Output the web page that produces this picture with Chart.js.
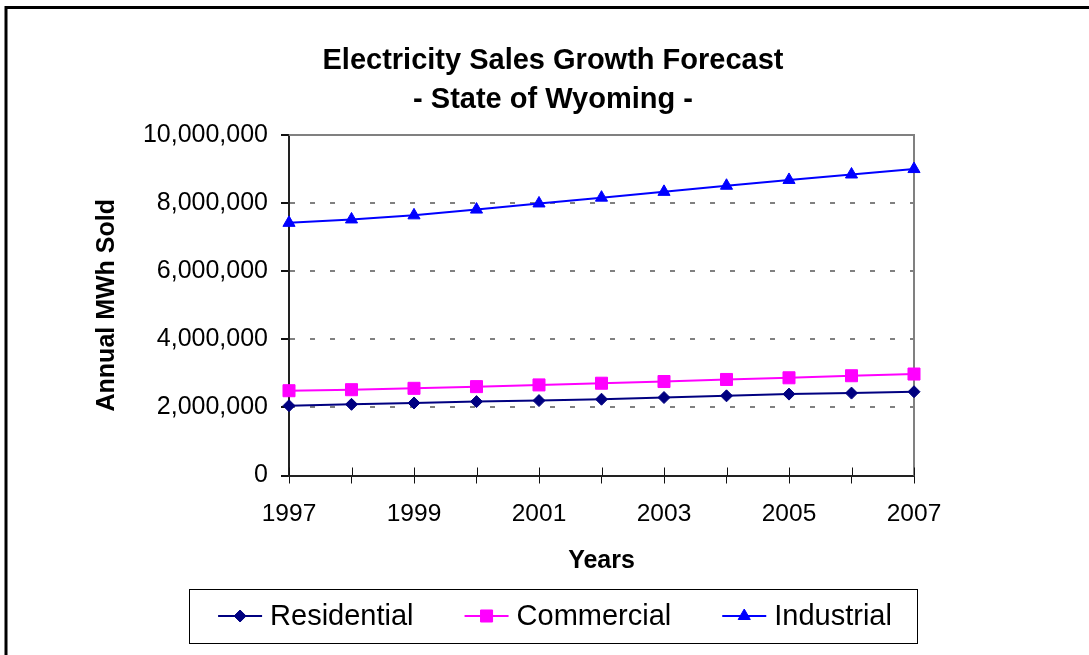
<!DOCTYPE html>
<html>
<head>
<meta charset="utf-8">
<title>Electricity Sales Growth Forecast</title>
<script src="https://cdn.jsdelivr.net/npm/chart.js"></script>
<style>
  html, body { margin: 0; padding: 0; background: #fff; }
  canvas { display: block; }
</style>
</head>
<body>
<canvas id="sales_chart" width="1089" height="655"></canvas>
<script>
// annual MWh sold, Wyoming forecast
const years = ['1997', '1998', '1999', '2000', '2001', '2002', '2003', '2004', '2005', '2006', '2007'];
const residential = [2050000, 2090000, 2130000, 2170000, 2200000, 2240000, 2290000, 2340000, 2390000, 2420000, 2460000];
const commercial = [2490000, 2520000, 2560000, 2610000, 2660000, 2710000, 2760000, 2820000, 2870000, 2930000, 2980000];
const industrial = [7420000, 7520000, 7640000, 7810000, 7990000, 8160000, 8330000, 8510000, 8680000, 8840000, 9000000];
const y_min = 0;
const y_max = 10000000;
const y_step = 2000000;

const FONT = "'Liberation Sans', Arial, sans-serif";

function series(label, data, color, pointStyle, radius) {
  return {
    label: label,
    data: data,
    borderColor: color,
    backgroundColor: color,
    pointBackgroundColor: color,
    pointBorderColor: color,
    pointStyle: pointStyle,
    pointRadius: radius,
    pointBorderWidth: 1,
    borderWidth: 2,
    tension: 0,
    clip: false
  };
}

// outer frame, plot border (top/right) and the inner half of the x ticks
const frame_plugin = {
  id: 'frame',
  beforeDraw(chart) {
    const ctx = chart.ctx;
    ctx.save();
    ctx.fillStyle = '#fff';
    ctx.fillRect(0, 0, chart.width, chart.height);
    ctx.strokeStyle = '#000';
    ctx.lineWidth = 3;
    ctx.strokeRect(6, 7.5, chart.width + 20, chart.height + 20);
    ctx.restore();
  },
  beforeDatasetsDraw(chart) {
    const ctx = chart.ctx;
    const a = chart.chartArea;
    const x = chart.scales.x;
    ctx.save();
    ctx.strokeStyle = '#808080';
    ctx.lineWidth = 2;
    ctx.beginPath();
    ctx.moveTo(a.left, a.top);
    ctx.lineTo(a.right, a.top);
    ctx.lineTo(a.right, a.bottom);
    ctx.stroke();
    ctx.strokeStyle = '#111';
    ctx.lineWidth = 1;
    for (let i = 0; i < x.ticks.length; i++) {
      const px = Math.round(x.getPixelForTick(i)) + 0.5;
      ctx.beginPath();
      ctx.moveTo(px, a.bottom);
      ctx.lineTo(px, a.bottom - 8);
      ctx.stroke();
    }
    ctx.restore();
  }
};

// boxed legend with line + marker samples
const boxed_legend_plugin = {
  id: 'boxedLegend',
  afterDraw(chart) {
    const ctx = chart.ctx;
    const cx = 555;
    const cy = 616;
    const sample = 44;
    const text_gap = 8;
    const item_gap = 51;
    ctx.save();
    ctx.font = '29px ' + FONT;
    const sets = chart.data.datasets;
    const widths = sets.map(ds => sample + text_gap + ctx.measureText(ds.label).width);
    const total = widths.reduce((s, w) => s + w, 0) + item_gap * (sets.length - 1);
    let lx = cx - total / 2;

    ctx.strokeStyle = '#000';
    ctx.lineWidth = 1;
    ctx.strokeRect(189.5, 589.5, 728, 54);

    sets.forEach((ds, i) => {
      ctx.strokeStyle = ds.borderColor;
      ctx.lineWidth = 2;
      ctx.beginPath();
      ctx.moveTo(lx, cy);
      ctx.lineTo(lx + sample, cy);
      ctx.stroke();
      ctx.fillStyle = ds.pointBackgroundColor;
      ctx.strokeStyle = ds.pointBorderColor;
      ctx.lineWidth = 1;
      Chart.helpers.drawPoint(ctx, {
        pointStyle: ds.pointStyle,
        radius: ds.pointRadius,
        rotation: 0,
        borderWidth: 1
      }, lx + sample / 2, cy);
      ctx.fillStyle = '#000';
      ctx.textAlign = 'left';
      ctx.textBaseline = 'middle';
      ctx.fillText(ds.label, lx + sample + text_gap, cy + 1);
      lx += widths[i] + item_gap;
    });
    ctx.restore();
  }
};

const sales_chart_data = {
  labels: years,
  datasets: [
    series('Residential', residential, '#000080', 'rectRot', 6),
    series('Commercial', commercial, '#FF00FF', 'rect', 8.5),
    series('Industrial', industrial, '#0000FF', 'triangle', 7)
  ]
};

const sales_chart_config = {
  type: 'line',
  data: sales_chart_data,
  options: {
    responsive: false,
    animation: false,
    devicePixelRatio: 1,
    layout: {
      padding: { left: 17, right: 0, top: 0, bottom: 0 }
    },
    plugins: {
      legend: { display: false },
      tooltip: { enabled: false },
      title: {
        display: true,
        text: ['Electricity Sales Growth Forecast', '- State of Wyoming -'],
        color: '#000',
        font: { family: FONT, size: 29, weight: 'bold', lineHeight: 1.35 },
        padding: { top: 41.4, bottom: 15.3 }
      }
    },
    scales: {
      x: {
        type: 'category',
        offset: false,
        afterFit: (scale) => { scale.height = 179.5; },
        grid: {
          drawOnChartArea: false,
          drawTicks: true,
          tickLength: 8,
          tickColor: '#111',
          tickWidth: 1
        },
        border: { color: '#222', width: 2 },
        ticks: {
          autoSkip: false,
          maxRotation: 0,
          padding: 16.5,
          color: '#000',
          font: { family: FONT, size: 24.5 },
          callback: function (value, index) {
            return index % 2 === 0 ? this.getLabelForValue(value) : '';
          }
        },
        title: {
          display: true,
          text: 'Years',
          color: '#000',
          font: { family: FONT, size: 25, weight: 'bold' },
          padding: { top: 0, bottom: 79 }
        }
      },
      y: {
        min: y_min,
        max: y_max,
        afterFit: (scale) => { scale.width = 272; },
        grid: {
          color: (c) => (c.tick && c.tick.value > y_min && c.tick.value < y_max) ? '#808080' : 'rgba(0,0,0,0)',
          lineWidth: 2,
          drawTicks: true,
          tickLength: 8,
          tickColor: '#111',
          tickWidth: 2
        },
        border: { color: '#222', width: 2, dash: [5, 15] },
        ticks: {
          stepSize: y_step,
          padding: 13,
          color: '#000',
          font: { family: FONT, size: 25 },
          callback: (v) => v.toLocaleString('en-US')
        },
        title: {
          display: true,
          text: 'Annual MWh Sold',
          color: '#000',
          font: { family: FONT, size: 25, weight: 'bold' },
          padding: { top: 75, bottom: 0 }
        }
      },
      // empty right-hand margin beside the plot
      margin: {
        type: 'linear',
        position: 'right',
        display: true,
        afterFit: (scale) => { scale.width = 175; },
        grid: { display: false },
        border: { display: false },
        ticks: { display: false }
      }
    }
  },
  plugins: [frame_plugin, boxed_legend_plugin]
};

const sales_chart = new Chart(
  document.getElementById('sales_chart'),
  sales_chart_config
);
</script>
</body>
</html>
